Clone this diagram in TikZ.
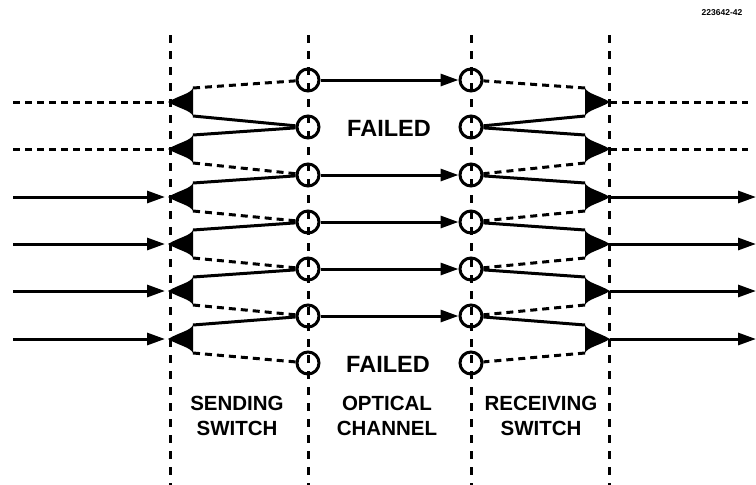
\documentclass[tikz,border=0pt]{standalone}
\usepackage{fontspec}
\setmainfont{Liberation Sans}
\usetikzlibrary{arrows.meta}
\begin{document}
\begin{tikzpicture}[x=1pt,y=-1pt,
  solidln/.style={line width=3pt},
  dashln/.style={line width=3pt, dash pattern=on 7pt off 5pt},
  vdash/.style={line width=3pt, dash pattern=on 8pt off 8pt},
  chan/.style={circle, draw, line width=3pt, minimum size=22pt, inner sep=0pt},
  arr/.style={-{Triangle[length=18pt,width=12pt]}},
  lbl/.style={font=\fontsize{20.5}{25}\selectfont\bfseries, align=center},
  fail/.style={font=\fontsize{23.5}{25}\selectfont\bfseries},
  tag/.style={font=\fontsize{8.5}{9}\selectfont\bfseries}
]
\useasboundingbox (0,0) rectangle (756,485);

% vertical dashed division lines
\foreach \n/\x in {a/170,b/308,c/471,d/609}{
  \coordinate (vt\n) at (\x,35);
  \coordinate (vb\n) at (\x,485);
  \draw[vdash] (vt\n) -- (vb\n);
}

% channel circles
\foreach \i/\y in {1/80,2/127,3/175,4/222,5/269,6/316,7/363}{
  \node[chan] (l\i) at (308,\y) {};
  \node[chan] (r\i) at (471,\y) {};
}

% switch triangles
\foreach \i/\y in {1/102,2/149,3/197,4/244,5/291,6/339}{
  \coordinate (lt\i) at (168,\y);
  \coordinate (lu\i) at (193,{\y-14});
  \coordinate (ld\i) at (193,{\y+14});
  \fill (lt\i) .. controls +(12,-7) and +(-3,6) .. (lu\i) -- (ld\i)
        .. controls +(-3,-6) and +(12,7) .. (lt\i) -- cycle;
  \coordinate (rt\i) at (610,\y);
  \coordinate (ru\i) at (585,{\y-14});
  \coordinate (rd\i) at (585,{\y+14});
  \fill (rt\i) .. controls +(-12,-7) and +(3,6) .. (ru\i) -- (rd\i)
        .. controls +(3,-6) and +(-12,7) .. (rt\i) -- cycle;
  \coordinate (in\i) at (13,\y);
  \coordinate (out\i) at (756,\y);
  \coordinate (outd\i) at (748,\y);
}

% switch to channel connectors
\draw[dashln] (lu1) -- (l1);  \draw[solidln] (ld1) -- (l2);
\draw[solidln] (lu2) -- (l2); \draw[dashln] (ld2) -- (l3);
\draw[dashln] (ru1) -- (r1);  \draw[solidln] (rd1) -- (r2);
\draw[solidln] (ru2) -- (r2); \draw[dashln] (rd2) -- (r3);
\foreach \i/\j in {3/4,4/5,5/6,6/7}{
  \draw[solidln] (lu\i) -- (l\i); \draw[dashln] (ld\i) -- (l\j);
  \draw[solidln] (ru\i) -- (r\i); \draw[dashln] (rd\i) -- (r\j);
}

% optical channel arrows
\foreach \i in {1,3,4,5,6}{
  \draw[solidln,arr] (l\i) -- (r\i);
}

% inputs and outputs
\foreach \i in {1,2}{
  \draw[dashln] (in\i) -- (lt\i);
  \draw[dashln] (rt\i) -- (outd\i);
}
\foreach \i in {3,4,5,6}{
  \draw[solidln,arr,shorten >=3pt] (in\i) -- (lt\i);
  \draw[solidln,arr] (rt\i) -- (out\i);
}

% labels
\node[fail] (f1) at (389,128) {FAILED};
\node[fail] (f2) at (388,364) {FAILED};
\node[lbl] (s1) at (237,416) {SENDING\\SWITCH};
\node[lbl] (s2) at (387,416) {OPTICAL\\CHANNEL};
\node[lbl] (s3) at (541,416) {RECEIVING\\SWITCH};
\node[tag] (t) at (722,13) {223642-42};
\end{tikzpicture}
\end{document}
